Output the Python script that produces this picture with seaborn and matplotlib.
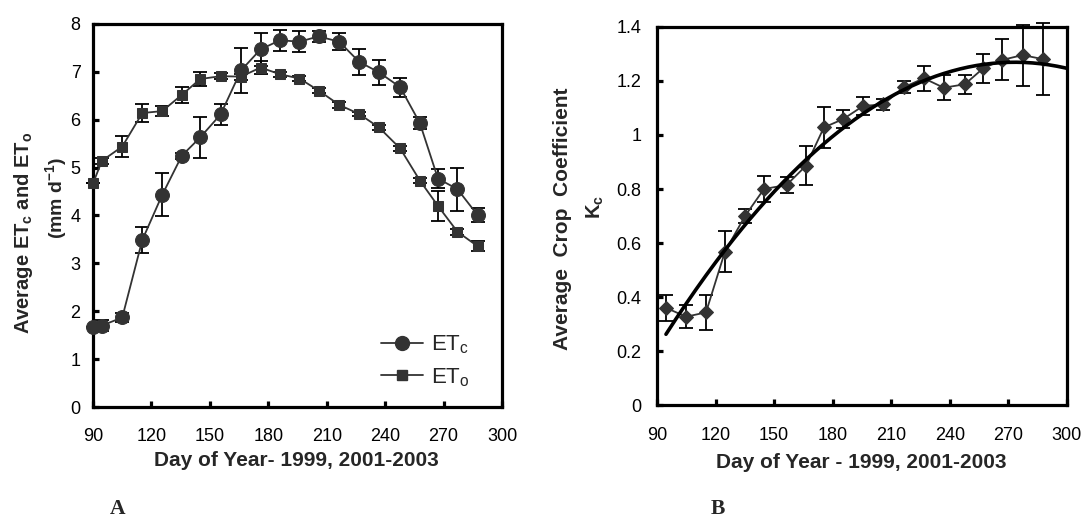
import numpy as np
import pandas as pd
import matplotlib
matplotlib.use("Agg")
import matplotlib.pyplot as plt
from matplotlib.lines import Line2D
import seaborn as sns

# ---- data -------------------------------------------------------------
et_days = [90, 94.5, 105, 115.3, 125.5, 135.6, 145, 155.5, 166, 176, 186, 196,
           205.8, 216.4, 226.6, 236.8, 247.7, 257.8, 267.1, 277.1, 287.4]
etc_mean = [1.68, 1.70, 1.87, 3.49, 4.43, 5.25, 5.63, 6.11, 7.03, 7.47, 7.66, 7.63,
            7.74, 7.63, 7.21, 6.99, 6.68, 5.93, 4.77, 4.55, 4.01]
etc_err = [0.0, 0.12, 0.10, 0.27, 0.45, 0.06, 0.42, 0.22, 0.47, 0.35, 0.22, 0.22,
           0.12, 0.18, 0.27, 0.26, 0.20, 0.12, 0.20, 0.45, 0.15]
eto_mean = [4.67, 5.14, 5.44, 6.14, 6.18, 6.52, 6.85, 6.91, 6.90, 7.09, 6.95, 6.86,
            6.61, 6.31, 6.12, 5.84, 5.40, 4.73, 4.20, 3.66, 3.36]
eto_err = [0.0, 0.06, 0.21, 0.18, 0.10, 0.17, 0.14, 0.06, 0.06, 0.14, 0.05, 0.05,
           0.05, 0.06, 0.05, 0.06, 0.06, 0.05, 0.32, 0.06, 0.10]

kc_days = [94.6, 104.9, 115.1, 124.8, 135.1, 144.8, 156.4, 166.3, 175.5, 185.4,
           195.7, 205.9, 216.5, 226.7, 236.9, 247.7, 257.1, 266.8, 277.3, 287.6]
kc_mean = [0.360, 0.327, 0.343, 0.568, 0.700, 0.800, 0.815, 0.886, 1.028, 1.059,
           1.108, 1.113, 1.177, 1.210, 1.175, 1.188, 1.247, 1.278, 1.296, 1.281]
kc_err = [0.047, 0.042, 0.065, 0.077, 0.025, 0.048, 0.030, 0.072, 0.075, 0.033,
          0.033, 0.020, 0.023, 0.046, 0.046, 0.036, 0.053, 0.076, 0.113, 0.134]

x_ticks = [90, 120, 150, 180, 210, 240, 270, 300]
et_ticks = [0, 1, 2, 3, 4, 5, 6, 7, 8]
kc_ticks = [0, 0.2, 0.4, 0.6, 0.8, 1.0, 1.2, 1.4]
kc_tick_labels = ["0", "0.2", "0.4", "0.6", "0.8", "1", "1.2", "1.4"]
xlabel_a = "Day of Year- 1999, 2001-2003"
xlabel_b = "Day of Year - 1999, 2001-2003"

# ---- style ------------------------------------------------------------
sns.set_theme(style="white")
plt.rcParams["font.family"] = ["Liberation Sans", "DejaVu Sans"]
plt.rcParams["mathtext.fontset"] = "custom"
plt.rcParams["mathtext.rm"] = "Liberation Sans"
plt.rcParams["mathtext.bf"] = "Liberation Sans:bold"
plt.rcParams["mathtext.it"] = "Liberation Sans:italic"

DARK = "#333333"
SPINE_W = 2.3
TICK_FS = 13
LABEL_FS = 14.5
CAP = 4.7

fig = plt.figure(figsize=(10.82, 5.21), dpi=100)
ax_a = fig.add_axes([0.0860, 0.2188, 0.3780, 0.7352])
ax_b = fig.add_axes([0.6072, 0.2226, 0.3789, 0.7256])


def style_axes(ax, xpad, ypad):
    for side in ["left", "right", "top", "bottom"]:
        ax.spines[side].set_visible(True)
        ax.spines[side].set_color("black")
        ax.spines[side].set_linewidth(SPINE_W)
    ax.tick_params(axis="both", which="both", direction="in", length=4,
                   width=SPINE_W, color="black", labelsize=TICK_FS,
                   labelcolor="black", left=True, bottom=True,
                   right=False, top=False)
    ax.tick_params(axis="x", pad=xpad)
    ax.tick_params(axis="y", pad=ypad)
    ax.grid(False)


# ---- panel A: ETc and ETo ---------------------------------------------
df_a = pd.DataFrame({"day": et_days, "etc": etc_mean, "eto": eto_mean})

ax_a.errorbar(et_days, etc_mean, yerr=etc_err, fmt="none", ecolor="black",
              elinewidth=1.3, capsize=CAP, capthick=1.3, zorder=2)
ax_a.errorbar(et_days, eto_mean, yerr=eto_err, fmt="none", ecolor="black",
              elinewidth=1.3, capsize=CAP, capthick=1.3, zorder=2)
sns.lineplot(data=df_a, x="day", y="etc", ax=ax_a, color=DARK, linewidth=1.3,
             marker="o", markersize=10, markeredgecolor=DARK,
             markerfacecolor=DARK, zorder=3)
sns.lineplot(data=df_a, x="day", y="eto", ax=ax_a, color=DARK, linewidth=1.3,
             marker="s", markersize=7.5, markeredgecolor=DARK,
             markerfacecolor=DARK, zorder=3)

ax_a.set_xlim(90, 300)
ax_a.set_ylim(0, 8)
ax_a.set_xticks(x_ticks)
ax_a.set_yticks(et_ticks)
ax_a.set_xlabel("")
ax_a.set_ylabel("")
style_axes(ax_a, xpad=15, ypad=9)
for ln in ax_a.lines:
    ln.set_clip_on(False)

handles = [
    Line2D([], [], color=DARK, linewidth=1.3, marker="o", markersize=10,
           markerfacecolor=DARK, markeredgecolor=DARK),
    Line2D([], [], color=DARK, linewidth=1.3, marker="s", markersize=7.5,
           markerfacecolor=DARK, markeredgecolor=DARK),
]
ax_a.legend(handles, [r"ET$_\mathrm{c}$", r"ET$_\mathrm{o}$"], loc="upper left",
            bbox_to_anchor=(0.705, 0.192), frameon=False, fontsize=16,
            handlelength=1.85, handletextpad=0.4, labelspacing=0.45,
            borderpad=0, borderaxespad=0)

fig.text(296 / 1082, 1 - 461 / 521, xlabel_a, ha="center", va="center",
         fontsize=15, fontweight="bold")
fig.text(24 / 1082, 1 - 233 / 521, r"Average ET$_\mathbf{c}$ and ET$_\mathbf{o}$",
         rotation=90, ha="center", va="center", fontsize=LABEL_FS,
         fontweight="bold")
fig.text(56 / 1082, 1 - 198 / 521, r"(mm d$^{\mathbf{-1}}$)", rotation=90,
         ha="center", va="center", fontsize=14, fontweight="bold")

# ---- panel B: crop coefficient ----------------------------------------
df_b = pd.DataFrame({"day": kc_days, "kc": kc_mean})

ax_b.errorbar(kc_days, kc_mean, yerr=kc_err, fmt="none", ecolor="black",
              elinewidth=1.3, capsize=CAP, capthick=1.3, zorder=2,
              clip_on=False)
sns.lineplot(data=df_b, x="day", y="kc", ax=ax_b, color=DARK, linewidth=1.3,
             marker="D", markersize=7.5, markeredgecolor=DARK,
             markerfacecolor=DARK, zorder=3)

# second-order polynomial trend of Kc against day of year
coef = np.polyfit(kc_days, kc_mean, 2)
trend_x = np.linspace(kc_days[0], 300, 200)
trend = pd.DataFrame({"day": trend_x, "kc": np.polyval(coef, trend_x)})
sns.lineplot(data=trend, x="day", y="kc", ax=ax_b, color="black",
             linewidth=2.6, zorder=4)

ax_b.set_xlim(90, 300)
ax_b.set_ylim(0, 1.4)
ax_b.set_xticks(x_ticks)
ax_b.set_yticks(kc_ticks)
ax_b.set_yticklabels(kc_tick_labels)
ax_b.set_xlabel("")
ax_b.set_ylabel("")
style_axes(ax_b, xpad=16, ypad=11)
for ln in ax_b.lines:
    ln.set_clip_on(False)
for coll in ax_b.collections:
    coll.set_clip_on(False)

fig.text(861 / 1082, 1 - 463 / 521, xlabel_b, ha="center", va="center",
         fontsize=15, fontweight="bold")
fig.text(562 / 1082, 1 - 219 / 521, "Average  Crop  Coefficient", rotation=90,
         ha="center", va="center", fontsize=15, fontweight="bold")
fig.text(595 / 1082, 1 - 207 / 521, r"K$_\mathbf{c}$", rotation=90,
         ha="center", va="center", fontsize=LABEL_FS, fontweight="bold")

# ---- panel letters ----------------------------------------------------
fig.text(117.5 / 1082, 1.5 / 521, "A", ha="center", va="bottom",
         fontsize=15.5, fontweight="bold", family="Liberation Serif")
fig.text(717.5 / 1082, 1.5 / 521, "B", ha="center", va="bottom",
         fontsize=15.5, fontweight="bold", family="Liberation Serif")

fig.savefig("out.png", dpi=100, facecolor="white")
